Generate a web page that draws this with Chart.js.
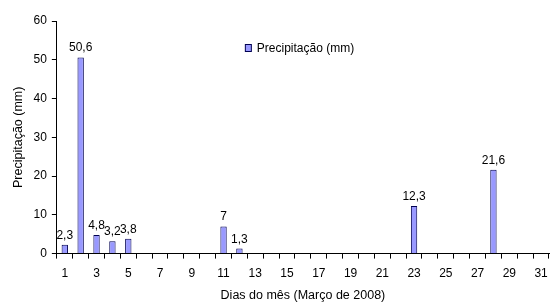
<!DOCTYPE html>
<html>
<head>
<meta charset="utf-8">
<script src="https://cdn.jsdelivr.net/npm/chart.js@4/dist/chart.umd.min.js"></script>
<style>
html,body{margin:0;padding:0;background:#fff;}
#wrap{width:552px;height:303px;}
</style>
</head>
<body>
<div id="wrap"><canvas id="c" width="552" height="303"></canvas></div>
<script>
const days = Array.from({length: 31}, (_, i) => String(i + 1));
const precipitation = [2.3, 50.6, 4.8, 3.2, 3.8, 0, 0, 0, 0, 0, 7, 1.3, 0, 0, 0, 0, 0, 0, 0, 0, 0, 0, 12.3, 0, 0, 0, 0, 21.6, 0, 0, 0];
const seriesLabel = 'Precipitação (mm)';
const xTitle = 'Dias do mês (Março de 2008)';
const yTitle = 'Precipitação (mm)';
const yTicks = [0, 10, 20, 30, 40, 50, 60];

const FONT = 'Liberation Sans, Arial, sans-serif';

const labelPlugin = {
  id: 'barLabels',
  afterDatasetsDraw(chart) {
    const ctx = chart.ctx;
    const meta = chart.getDatasetMeta(0);
    ctx.save();
    ctx.font = '12px ' + FONT;
    ctx.fillStyle = '#000';
    ctx.textAlign = 'center';
    ctx.textBaseline = 'alphabetic';
    meta.data.forEach((bar, i) => {
      const v = chart.data.datasets[0].data[i];
      if (!v) return;
      const txt = String(v).replace('.', ',');
      ctx.fillText(txt, bar.x, bar.y - 6);
    });
    ctx.restore();
  }
};

const legendPlugin = {
  id: 'innerLegend',
  afterDraw(chart) {
    const ctx = chart.ctx;
    const ds = chart.data.datasets[0];
    const area = chart.chartArea;
    const x = area.left + 188, y = area.top + 27;
    ctx.save();
    ctx.fillStyle = ds.backgroundColor;
    ctx.strokeStyle = ds.borderColor;
    ctx.lineWidth = 1;
    ctx.fillRect(x + 0.5, y - 3.5, 6, 7);
    ctx.strokeRect(x + 0.5, y - 3.5, 6, 7);
    ctx.font = '12px ' + FONT;
    ctx.fillStyle = '#000';
    ctx.textAlign = 'left';
    ctx.textBaseline = 'middle';
    ctx.fillText(ds.label, x + 12, y + 1);
    ctx.restore();
  }
};

new Chart(document.getElementById('c'), {
  type: 'bar',
  data: {
    labels: days,
    datasets: [{
      label: seriesLabel,
      data: precipitation,
      backgroundColor: '#9999FF',
      borderColor: '#000050',
      borderWidth: 1,
      borderSkipped: 'bottom',
      barPercentage: 0.4,
      categoryPercentage: 1.0
    }]
  },
  options: {
    responsive: false,
    animation: false,
    devicePixelRatio: 1,
    layout: { padding: { top: 21, right: 3, left: 11.5, bottom: 0 } },
    plugins: { legend: { display: false }, tooltip: { enabled: false } },
    scales: {
      x: {
        offset: true,
        afterFit: (scale) => { scale.paddingRight = 3; },
        grid: { offset: true, drawOnChartArea: false, drawTicks: true, tickLength: 5, color: '#000' },
        border: { color: '#000', width: 1 },
        ticks: {
          autoSkip: false, maxRotation: 0, color: '#000', padding: 7.5,
          font: { family: FONT, size: 12 },
          callback: function(val, idx) { return idx % 2 === 0 ? days[idx] : ''; }
        },
        title: { display: true, text: xTitle, color: '#000', font: { family: FONT, size: 12.5 }, padding: { top: 0, bottom: 0 } }
      },
      y: {
        min: 0, max: 60,
        afterBuildTicks: (axis) => { axis.ticks = yTicks.map(v => ({ value: v })); },
        grid: { drawOnChartArea: false, drawTicks: true, tickLength: 5, color: '#000' },
        border: { color: '#000', width: 1 },
        ticks: { color: '#000', padding: 5, font: { family: FONT, size: 12 } },
        title: { display: true, text: yTitle, color: '#000', font: { family: FONT, size: 12.5 }, padding: { top: 0, bottom: 2 } }
      }
    }
  },
  plugins: [labelPlugin, legendPlugin]
});
</script>
</body>
</html>
